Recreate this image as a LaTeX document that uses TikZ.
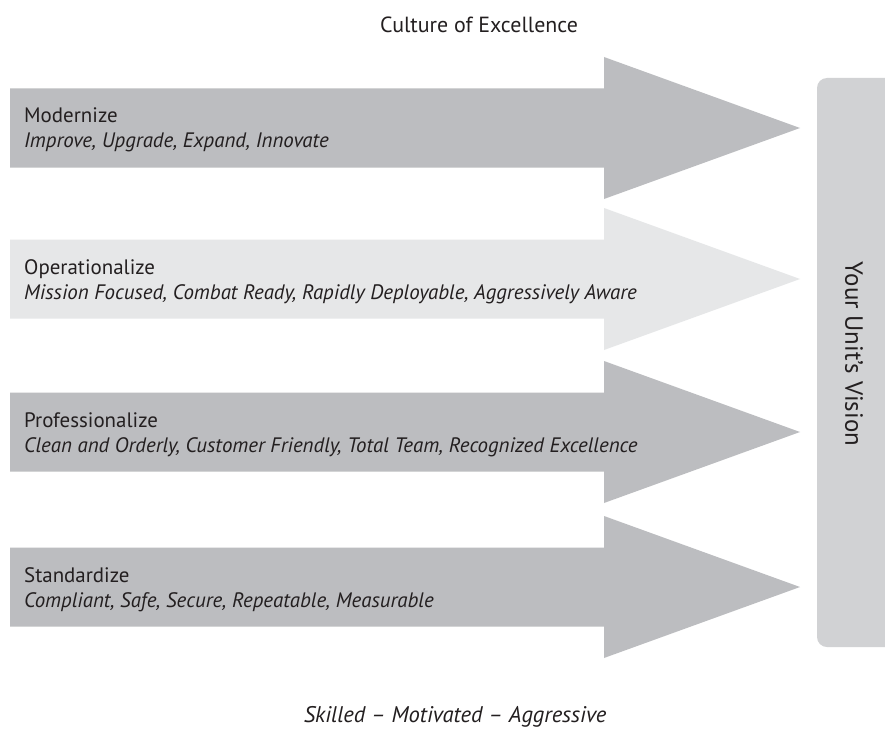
\documentclass[tikz,border=0pt]{standalone}
\usepackage{fontspec}
\setmainfont{PT Sans}
\definecolor{arrowdark}{HTML}{BCBDC0}
\definecolor{arrowlight}{HTML}{E6E7E8}
\definecolor{visionfill}{HTML}{D1D2D4}
\definecolor{inktext}{HTML}{231F20}
\tikzset{
  pillar/.style={anchor=base west,inner sep=0pt,text=inktext,font=\fontsize{21}{24}\selectfont},
  pillardesc/.style={anchor=base west,inner sep=0pt,text=inktext,font=\fontsize{21}{24}\selectfont\itshape},
}
\begin{document}
\begin{tikzpicture}[x=1bp,y=-1bp]
	\clip (0,0) rectangle (885,732);
	\fill[white] (0,0) rectangle (885,732);
	% arrows
	\fill[arrowdark] (10,88.5)--(604,88.5)--(604,57)--(800,128)--(604,199)--(604,167.5)--(10,167.5)--cycle;
	\fill[arrowlight] (10,239.5)--(604,239.5)--(604,208)--(800,279)--(604,350)--(604,318.5)--(10,318.5)--cycle;
	\fill[arrowdark] (10,392.5)--(604,392.5)--(604,361)--(800,432)--(604,503)--(604,471.5)--(10,471.5)--cycle;
	\fill[arrowdark] (10,547.5)--(604,547.5)--(604,516)--(800,587)--(604,658)--(604,626.5)--(10,626.5)--cycle;
	% vision box
	\node[fill=visionfill,rounded corners=10bp,minimum width=88bp,minimum height=569bp,inner sep=0pt] (vision) at (861,362.5) {};
	\node[rotate=-90,text=inktext,font=\fontsize{25}{28}\selectfont] (visiontext) at (854,354) {Your Unit’s Vision};
	% labels
	\node[text=inktext,anchor=base,inner sep=0pt,font=\fontsize{22}{26}\selectfont] (title) at (479,33) {Culture of Excellence};
	\node[pillar] (modernize) at (24,123) {Modernize};
	\node[pillardesc] (modernizedesc) at (24,148) {Improve, Upgrade, Expand, Innovate};
	\node[pillar] (operationalize) at (24,274) {Operationalize};
	\node[pillardesc] (operationalizedesc) at (24,299) {Mission Focused, Combat Ready, Rapidly Deployable, Aggressively Aware};
	\node[pillar] (professionalize) at (24,427) {Professionalize};
	\node[pillardesc] (professionalizedesc) at (24,452) {Clean and Orderly, Customer Friendly, Total Team, Recognized Excellence};
	\node[pillar] (standardize) at (24,582) {Standardize};
	\node[pillardesc] (standardizedesc) at (24,607) {Compliant, Safe, Secure, Repeatable, Measurable};
	\node[text=inktext,anchor=base,inner sep=0pt,font=\fontsize{22.7}{26}\selectfont\itshape] (motto) at (455,722) {Skilled – Motivated – Aggressive};
\end{tikzpicture}
\end{document}
